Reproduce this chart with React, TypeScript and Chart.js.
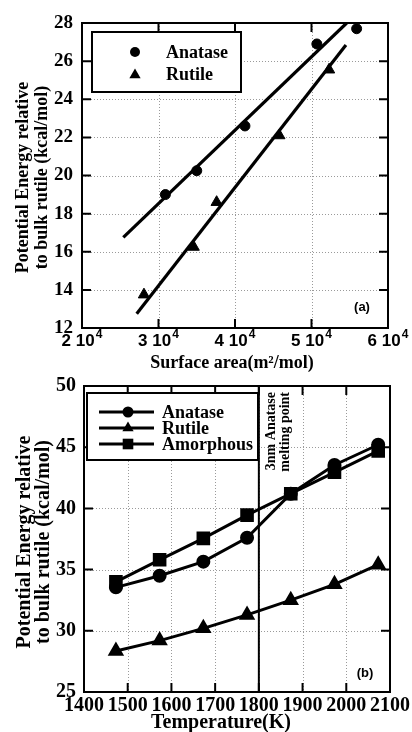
import React, { useEffect, useRef } from "react";
import { Chart, registerables } from "chart.js";

Chart.register(...registerables);

const SERIF = '"Liberation Serif", "Times New Roman", serif';
const SANS = '"Liberation Sans", Arial, sans-serif';

// ---------- Panel (a) data ----------
const anataseArea = [30900, 35000, 41300, 50700, 55900];
const anataseEnergyA = [19.0, 20.25, 22.6, 26.9, 27.7];
const rutileArea = [28100, 34600, 37600, 45800, 52300];
const rutileEnergyA = [13.75, 16.25, 18.6, 22.1, 25.55];
const anataseFitArea = [25400, 54600];
const anataseFitEnergy = [16.75, 28.0];
const rutileFitArea = [27150, 54500];
const rutileFitEnergy = [12.75, 26.85];
const areaTicks = [20000, 30000, 40000, 50000, 60000];
const energyTicksA = [12, 14, 16, 18, 20, 22, 24, 26, 28];

// ---------- Panel (b) data ----------
const temperatures = [1473, 1573, 1673, 1773, 1873, 1973, 2073];
const anataseEnergyB = [33.55, 34.5, 35.65, 37.6, 41.2, 43.55, 45.2];
const rutileEnergyB = [28.35, 29.2, 30.2, 31.3, 32.5, 33.8, 35.4];
const amorphousEnergyB = [34.0, 35.8, 37.55, 39.45, 41.2, 42.95, 44.7];
const tempTicks = [1400, 1500, 1600, 1700, 1800, 1900, 2000, 2100];
const energyTicksB = [25, 30, 35, 40, 45, 50];
const meltingPoint = 1800;

const pts = (xs: number[], ys: number[]) => xs.map((x, i) => ({ x, y: ys[i] }));

function drawMarker(ctx: CanvasRenderingContext2D, style: string, x: number, y: number, r: number) {
  ctx.save();
  ctx.fillStyle = "#000";
  ctx.beginPath();
  if (style === "circle") {
    ctx.arc(x, y, r, 0, Math.PI * 2);
  } else if (style === "triangle") {
    ctx.moveTo(x, y - r);
    ctx.lineTo(x + 0.866 * r, y + 0.5 * r);
    ctx.lineTo(x - 0.866 * r, y + 0.5 * r);
    ctx.closePath();
  } else {
    const s = r * Math.SQRT1_2;
    ctx.rect(x - s, y - s, 2 * s, 2 * s);
  }
  ctx.fill();
  ctx.restore();
}

function framePlugin(xTicks: number[], yTicks: number[], tickLen: number) {
  return {
    id: "frame",
    beforeDatasetsDraw(chart: any) {
      const { ctx, chartArea: a, scales } = chart;
      ctx.save();
      ctx.strokeStyle = "#9a9a9a";
      ctx.lineWidth = 1;
      ctx.setLineDash([1, 2]);
      xTicks.forEach((v) => {
        const px = Math.round(scales.x.getPixelForValue(v)) + 0.5;
        ctx.beginPath();
        ctx.moveTo(px, a.top);
        ctx.lineTo(px, a.bottom);
        ctx.stroke();
      });
      yTicks.forEach((v) => {
        const py = Math.round(scales.y.getPixelForValue(v)) + 0.5;
        ctx.beginPath();
        ctx.moveTo(a.left, py);
        ctx.lineTo(a.right, py);
        ctx.stroke();
      });
      ctx.restore();
    },
    afterDatasetsDraw(chart: any) {
      const { ctx, chartArea: a, scales } = chart;
      ctx.save();
      ctx.strokeStyle = "#000";
      ctx.lineWidth = 2;
      ctx.setLineDash([]);
      ctx.strokeRect(a.left, a.top, a.right - a.left, a.bottom - a.top);
      xTicks.forEach((v) => {
        const px = scales.x.getPixelForValue(v);
        ctx.beginPath();
        ctx.moveTo(px, a.bottom);
        ctx.lineTo(px, a.bottom - tickLen);
        ctx.moveTo(px, a.top);
        ctx.lineTo(px, a.top + tickLen);
        ctx.stroke();
      });
      yTicks.forEach((v) => {
        const py = scales.y.getPixelForValue(v);
        ctx.beginPath();
        ctx.moveTo(a.left, py);
        ctx.lineTo(a.left + tickLen, py);
        ctx.moveTo(a.right, py);
        ctx.lineTo(a.right - tickLen, py);
        ctx.stroke();
      });
      ctx.restore();
    },
  };
}

function ChartA() {
  const ref = useRef<HTMLCanvasElement>(null);
  useEffect(() => {
    const annot = {
      id: "annotA",
      afterDraw(chart: any) {
        const { ctx, chartArea: a, scales } = chart;
        ctx.save();
        // x tick labels "n 10^4"
        ctx.fillStyle = "#000";
        ctx.textBaseline = "alphabetic";
        ctx.textAlign = "left";
        areaTicks.forEach((v) => {
          const main = `${v / 10000} 10`;
          const sup = "4";
          ctx.font = `bold 17px ${SANS}`;
          const w1 = ctx.measureText(main).width;
          ctx.font = `bold 12px ${SANS}`;
          const w2 = ctx.measureText(sup).width;
          const px = scales.x.getPixelForValue(v);
          const x0 = px - (w1 + w2 + 1) / 2;
          ctx.font = `bold 17px ${SANS}`;
          ctx.fillText(main, x0, a.bottom + 18);
          ctx.font = `bold 12px ${SANS}`;
          ctx.fillText(sup, x0 + w1 + 1, a.bottom + 10);
        });
        // legend box
        ctx.fillStyle = "#fff";
        ctx.fillRect(92, 32, 149, 60);
        ctx.strokeStyle = "#000";
        ctx.lineWidth = 2;
        ctx.strokeRect(92, 32, 149, 60);
        drawMarker(ctx, "circle", 135, 52, 5);
        drawMarker(ctx, "triangle", 135, 75, 6.5);
        ctx.fillStyle = "#000";
        ctx.font = `bold 18px ${SERIF}`;
        ctx.textAlign = "left";
        ctx.textBaseline = "middle";
        ctx.fillText("Anatase", 166, 53);
        ctx.fillText("Rutile", 166, 75);
        // panel label
        ctx.font = `bold 13px ${SANS}`;
        ctx.textAlign = "center";
        ctx.fillText("(a)", 362, 307);
        // axis titles
        ctx.font = `bold 18px ${SERIF}`;
        ctx.fillText("Surface area(m\u00B2/mol)", 232, 363);
        ctx.translate(0, (a.top + a.bottom) / 2 + 2);
        ctx.rotate(-Math.PI / 2);
        ctx.fillText("Potential Energy relative", 0, 23);
        ctx.fillText("to bulk rutile (kcal/mol)", 0, 42);
        ctx.restore();
      },
    };
    const chart = new Chart(ref.current!, {
      type: "scatter",
      data: {
        datasets: [
          {
            label: "Anatase",
            data: pts(anataseArea, anataseEnergyA),
            pointStyle: "circle",
            pointRadius: 5,
            backgroundColor: "#000",
            borderColor: "#000",
            showLine: false,
          },
          {
            label: "Rutile",
            data: pts(rutileArea, rutileEnergyA),
            pointStyle: "triangle",
            pointRadius: 6.5,
            backgroundColor: "#000",
            borderColor: "#000",
            showLine: false,
          },
          {
            label: "Anatase fit",
            data: pts(anataseFitArea, anataseFitEnergy),
            showLine: true,
            pointRadius: 0,
            borderColor: "#000",
            borderWidth: 3.2,
          },
          {
            label: "Rutile fit",
            data: pts(rutileFitArea, rutileFitEnergy),
            showLine: true,
            pointRadius: 0,
            borderColor: "#000",
            borderWidth: 3.2,
          },
        ],
      },
      options: {
        responsive: false,
        animation: false,
        layout: { padding: { left: 0, right: 24, top: 23, bottom: 0 } },
        plugins: { legend: { display: false }, tooltip: { enabled: false } },
        scales: {
          x: {
            type: "linear",
            min: 20000,
            max: 60000,
            afterBuildTicks: (s: any) => {
              s.ticks = areaTicks.map((value) => ({ value }));
            },
            afterFit: (s: any) => {
              s.height = 48;
            },
            ticks: { display: false },
            grid: { display: false, drawTicks: false },
            border: { display: false },
          },
          y: {
            type: "linear",
            min: 12,
            max: 28,
            afterBuildTicks: (s: any) => {
              s.ticks = energyTicksA.map((value) => ({ value }));
            },
            afterFit: (s: any) => {
              s.width = 82;
            },
            ticks: {
              font: { family: SERIF, weight: "bold", size: 19 },
              color: "#000",
              padding: 9,
              autoSkip: false,
            },
            grid: { display: false, drawTicks: false },
            border: { display: false },
          },
        },
      } as any,
      plugins: [framePlugin(areaTicks, energyTicksA, 9), annot],
    });
    return () => chart.destroy();
  }, []);
  return (
    <canvas
      ref={ref}
      width={412}
      height={376}
      style={{ position: "absolute", left: 0, top: 0, width: 412, height: 376 }}
    />
  );
}

function ChartB() {
  const ref = useRef<HTMLCanvasElement>(null);
  useEffect(() => {
    const annot = {
      id: "annotB",
      afterDatasetsDraw(chart: any) {
        const { ctx, chartArea: a, scales } = chart;
        ctx.save();
        // melting point line
        const mx = scales.x.getPixelForValue(meltingPoint);
        ctx.strokeStyle = "#000";
        ctx.lineWidth = 2;
        ctx.beginPath();
        ctx.moveTo(mx, a.top);
        ctx.lineTo(mx, a.bottom);
        ctx.stroke();
        ctx.fillStyle = "#000";
        ctx.font = `bold 14px ${SERIF}`;
        ctx.textAlign = "right";
        ctx.textBaseline = "middle";
        ctx.translate(0, a.top + 6);
        ctx.rotate(-Math.PI / 2);
        ctx.fillText("3nm Anatase", 0, mx + 13);
        ctx.fillText("melting point", 0, mx + 27);
        ctx.restore();
      },
      afterDraw(chart: any) {
        const { ctx, chartArea: a } = chart;
        ctx.save();
        // legend
        const top = 393 - 366;
        ctx.fillStyle = "#fff";
        ctx.fillRect(87, top, 171, 67);
        ctx.strokeStyle = "#000";
        ctx.lineWidth = 2;
        ctx.strokeRect(87, top, 171, 67);
        const rows = [
          { label: "Anatase", style: "circle", r: 5.5 },
          { label: "Rutile", style: "triangle", r: 6.5 },
          { label: "Amorphous", style: "rect", r: 7.5 },
        ];
        rows.forEach((row, i) => {
          const y = top + 19 + i * 16;
          ctx.strokeStyle = "#000";
          ctx.lineWidth = 3;
          ctx.beginPath();
          ctx.moveTo(99, y);
          ctx.lineTo(154, y);
          ctx.stroke();
          drawMarker(ctx, row.style, 128, y, row.r);
          ctx.fillStyle = "#000";
          ctx.font = `bold 18px ${SERIF}`;
          ctx.textAlign = "left";
          ctx.textBaseline = "middle";
          ctx.fillText(row.label, 162, y + 1);
        });
        ctx.font = `bold 13px ${SANS}`;
        ctx.textAlign = "center";
        ctx.textBaseline = "middle";
        ctx.fillText("(b)", 365, 673 - 366);
        // axis titles
        ctx.font = `bold 20px ${SERIF}`;
        ctx.fillText("Temperature(K)", 221, 357);
        ctx.translate(0, (a.top + a.bottom) / 2 + 3);
        ctx.rotate(-Math.PI / 2);
        ctx.fillText("Potential Energy relative", 0, 25);
        ctx.fillText("to bulk rutile (kcal/mol)", 0, 44);
        ctx.restore();
      },
    };
    const common = {
      borderColor: "#000",
      backgroundColor: "#000",
      borderWidth: 3,
      showLine: true,
    };
    const chart = new Chart(ref.current!, {
      type: "scatter",
      data: {
        datasets: [
          {
            label: "Anatase",
            data: pts(temperatures, anataseEnergyB),
            pointStyle: "circle",
            pointRadius: 5.5,
            ...common,
          },
          {
            label: "Rutile",
            data: pts(temperatures, rutileEnergyB),
            pointStyle: "triangle",
            pointRadius: 6.5,
            ...common,
          },
          {
            label: "Amorphous",
            data: pts(temperatures, amorphousEnergyB),
            pointStyle: "rect",
            pointRadius: 7.5,
            ...common,
          },
        ],
      },
      options: {
        responsive: false,
        animation: false,
        clip: false,
        layout: { padding: { left: 0, right: 22, top: 20, bottom: 0 } },
        plugins: { legend: { display: false }, tooltip: { enabled: false } },
        scales: {
          x: {
            type: "linear",
            min: 1400,
            max: 2100,
            afterBuildTicks: (s: any) => {
              s.ticks = tempTicks.map((value) => ({ value }));
            },
            afterFit: (s: any) => {
              s.height = 40;
            },
            ticks: {
              callback: (v: any) => String(v),
              font: { family: SERIF, weight: "bold", size: 20 },
              color: "#000",
              padding: 2,
              maxRotation: 0,
              autoSkip: false,
            },
            grid: { display: false, drawTicks: false },
            border: { display: false },
          },
          y: {
            type: "linear",
            min: 25,
            max: 50,
            afterBuildTicks: (s: any) => {
              s.ticks = energyTicksB.map((value) => ({ value }));
            },
            afterFit: (s: any) => {
              s.width = 84;
            },
            ticks: {
              font: { family: SERIF, weight: "bold", size: 20 },
              color: "#000",
              padding: 8,
              autoSkip: false,
            },
            grid: { display: false, drawTicks: false },
            border: { display: false },
          },
        },
      } as any,
      plugins: [framePlugin(tempTicks, energyTicksB, 9), annot],
    });
    return () => chart.destroy();
  }, []);
  return (
    <canvas
      ref={ref}
      width={412}
      height={366}
      style={{ position: "absolute", left: 0, top: 366, width: 412, height: 366 }}
    />
  );
}

export default function App() {
  return (
    <div style={{ position: "absolute", left: 0, top: 0, width: 412, height: 732, background: "#fff" }}>
      <ChartA />
      <ChartB />
    </div>
  );
}
